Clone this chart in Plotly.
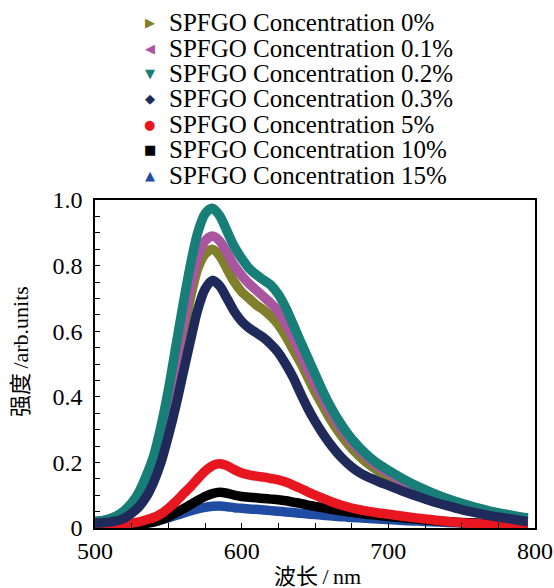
import plotly.graph_objects as go

# ---------------- data ----------------
wavelength = [500, 505, 510, 515, 520, 525, 530, 535, 540, 545, 550, 555, 560, 565, 570, 575,
              580, 585, 590, 595, 600, 605, 610, 615, 620, 625, 630, 635, 640, 645, 650, 655,
              660, 665, 670, 675, 680, 685, 690, 695, 700, 710, 720, 730, 740, 750, 760, 770,
              780, 790, 795]

conc_0 = [0.020, 0.021, 0.026, 0.034, 0.047, 0.066, 0.095, 0.140, 0.195, 0.270, 0.365, 0.475, 0.590, 0.700, 0.790, 0.835,
          0.850, 0.830, 0.790, 0.750, 0.720, 0.700, 0.680, 0.665, 0.645, 0.620, 0.585, 0.545, 0.505, 0.460, 0.415, 0.375,
          0.335, 0.300, 0.270, 0.243, 0.220, 0.200, 0.183, 0.168, 0.155, 0.130, 0.110, 0.093, 0.078, 0.065, 0.054, 0.045,
          0.037, 0.030, 0.027]
conc_01 = [0.020, 0.022, 0.027, 0.036, 0.050, 0.070, 0.100, 0.148, 0.205, 0.285, 0.385, 0.500, 0.620, 0.735, 0.825, 0.875,
           0.890, 0.875, 0.840, 0.800, 0.770, 0.745, 0.725, 0.705, 0.685, 0.660, 0.622, 0.580, 0.532, 0.485, 0.440, 0.398,
           0.358, 0.322, 0.290, 0.262, 0.238, 0.217, 0.198, 0.182, 0.168, 0.142, 0.120, 0.101, 0.085, 0.071, 0.059, 0.049,
           0.040, 0.033, 0.030]
conc_02 = [0.020, 0.022, 0.028, 0.038, 0.053, 0.076, 0.110, 0.160, 0.220, 0.310, 0.420, 0.550, 0.680, 0.800, 0.900, 0.958,
           0.975, 0.952, 0.905, 0.858, 0.822, 0.792, 0.772, 0.756, 0.740, 0.712, 0.672, 0.622, 0.570, 0.520, 0.470, 0.420,
           0.375, 0.336, 0.302, 0.272, 0.247, 0.225, 0.206, 0.190, 0.176, 0.150, 0.127, 0.107, 0.090, 0.075, 0.062, 0.051,
           0.042, 0.034, 0.031]
conc_03 = [0.015, 0.016, 0.018, 0.022, 0.030, 0.045, 0.065, 0.095, 0.140, 0.200, 0.280, 0.370, 0.470, 0.570, 0.665, 0.728,
           0.755, 0.738, 0.700, 0.660, 0.630, 0.610, 0.595, 0.580, 0.560, 0.535, 0.500, 0.460, 0.412, 0.366, 0.326, 0.290,
           0.258, 0.230, 0.206, 0.186, 0.170, 0.158, 0.148, 0.138, 0.130, 0.112, 0.096, 0.081, 0.068, 0.056, 0.046, 0.037,
           0.030, 0.023, 0.020]
conc_5 = [0.008, 0.008, 0.009, 0.010, 0.012, 0.015, 0.019, 0.025, 0.032, 0.043, 0.060, 0.080, 0.103, 0.125, 0.150, 0.173,
          0.190, 0.196, 0.190, 0.178, 0.168, 0.162, 0.158, 0.155, 0.151, 0.147, 0.140, 0.131, 0.121, 0.110, 0.100, 0.091,
          0.082, 0.074, 0.067, 0.061, 0.056, 0.052, 0.048, 0.045, 0.042, 0.036, 0.030, 0.025, 0.020, 0.016, 0.013, 0.011,
          0.010, 0.009, 0.009]
conc_10 = [0.004, 0.004, 0.005, 0.006, 0.007, 0.009, 0.011, 0.014, 0.018, 0.025, 0.034, 0.046, 0.058, 0.071, 0.084, 0.096,
           0.105, 0.109, 0.106, 0.100, 0.096, 0.094, 0.092, 0.090, 0.088, 0.086, 0.083, 0.079, 0.075, 0.070, 0.066, 0.062,
           0.058, 0.054, 0.051, 0.048, 0.045, 0.042, 0.040, 0.037, 0.035, 0.031, 0.027, 0.023, 0.020, 0.017, 0.015, 0.013,
           0.011, 0.010, 0.009]
conc_15 = [0.005, 0.005, 0.006, 0.007, 0.008, 0.010, 0.013, 0.016, 0.020, 0.025, 0.031, 0.038, 0.045, 0.052, 0.058, 0.063,
           0.066, 0.067, 0.065, 0.062, 0.060, 0.058, 0.057, 0.055, 0.053, 0.051, 0.049, 0.047, 0.045, 0.043, 0.041, 0.039,
           0.037, 0.035, 0.034, 0.032, 0.031, 0.030, 0.028, 0.027, 0.026, 0.023, 0.021, 0.019, 0.017, 0.015, 0.013, 0.012,
           0.011, 0.010, 0.010]

series_names = ["SPFGO Concentration 0%", "SPFGO Concentration 0.1%", "SPFGO Concentration 0.2%",
                "SPFGO Concentration 0.3%", "SPFGO Concentration 5%", "SPFGO Concentration 10%",
                "SPFGO Concentration 15%"]
series_values = [conc_0, conc_01, conc_02, conc_03, conc_5, conc_10, conc_15]
series_colors = ["#7f7f2c", "#a9559f", "#177f78", "#1f2a5a", "#e8161f", "#000000", "#1f4ca2"]
series_glyphs = ["\u25B6", "\u25C0", "\u25BC", "\u25C6", "\u25CF", "\u25A0", "\u25B2"]
draw_order = [6, 5, 4, 0, 1, 2, 3]

x_tickvals = [500, 600, 700, 800]
x_ticktext = ["500", "600", "700", "800"]
y_tickvals = [0, 0.2, 0.4, 0.6, 0.8, 1.0]
y_ticktext = ["0", "0.2", "0.4", "0.6", "0.8", "1.0"]

x_title = "波长\u2009/\u2009nm"
y_title = "强度\u2009/arb.units"

# ---------------- figure ----------------
FONT = "'Liberation Serif', 'Times New Roman', 'Noto Sans CJK SC', serif"
W, H = 554, 588
L, R, T, B = 95, 19, 200, 60
plot_h = H - T - B
plot_w = W - L - R

fig = go.Figure()
for i in draw_order:
    fig.add_trace(go.Scatter(
        x=wavelength, y=series_values[i], mode="lines",
        line=dict(color=series_colors[i], width=9.5, shape="spline", smoothing=0.8),
        name=series_names[i], showlegend=False, hoverinfo="skip"))

axis_common = dict(showline=True, linecolor="black", linewidth=1.5, mirror=True,
                   ticks="inside", ticklen=5, tickwidth=1.2, tickcolor="black",
                   showgrid=False, zeroline=False, automargin=False,
                   tickfont=dict(family=FONT, size=24, color="black"))

fig.update_xaxes(range=[500, 800], tickmode="array", tickvals=x_tickvals, ticktext=x_ticktext,
                 minor=dict(dtick=25, tick0=500, ticks="inside", ticklen=5, tickwidth=1.2,
                            tickcolor="black", showgrid=False),
                 **axis_common)
fig.update_yaxes(range=[0, 1.0], tickmode="array", tickvals=y_tickvals, ticktext=y_ticktext,
                 minor=dict(dtick=0.05, tick0=0, ticks="inside", ticklen=5, tickwidth=1.2,
                            tickcolor="black", showgrid=False),
                 ticklabelstandoff=6,
                 **axis_common)

annotations = []
# axis titles
annotations.append(dict(text=x_title, xref="paper", yref="paper",
                        x=(317 - L) / plot_w, y=(H - B - 576) / plot_h,
                        showarrow=False, xanchor="center", yanchor="middle",
                        font=dict(family=FONT, size=22, color="black")))
annotations.append(dict(text=y_title, xref="paper", yref="paper",
                        x=(20 - L) / plot_w, y=(H - B - 352) / plot_h,
                        textangle=-90, showarrow=False, xanchor="center", yanchor="middle",
                        font=dict(family=FONT, size=22, color="black")))
# legend rows
row0, row_gap = 22.7, 25.4
for k, name in enumerate(series_names):
    py = row0 + k * row_gap
    yp = (H - B - py) / plot_h
    annotations.append(dict(text=series_glyphs[k], xref="paper", yref="paper",
                            x=(149.5 - L) / plot_w, y=yp, showarrow=False,
                            xanchor="center", yanchor="middle",
                            font=dict(family="DejaVu Sans", size=13, color=series_colors[k])))
    annotations.append(dict(text=name, xref="paper", yref="paper",
                            x=(167 - L) / plot_w, y=yp, showarrow=False,
                            xanchor="left", yanchor="middle",
                            font=dict(family=FONT, size=25, color="black")))

fig.update_layout(width=W, height=H, margin=dict(l=L, r=R, t=T, b=B, autoexpand=False),
                  plot_bgcolor="white", paper_bgcolor="white",
                  showlegend=False, annotations=annotations)

fig.write_html("out.html", config={"displayModeBar": False},
               post_script="document.body.style.margin='0';document.body.style.overflow='hidden';")
